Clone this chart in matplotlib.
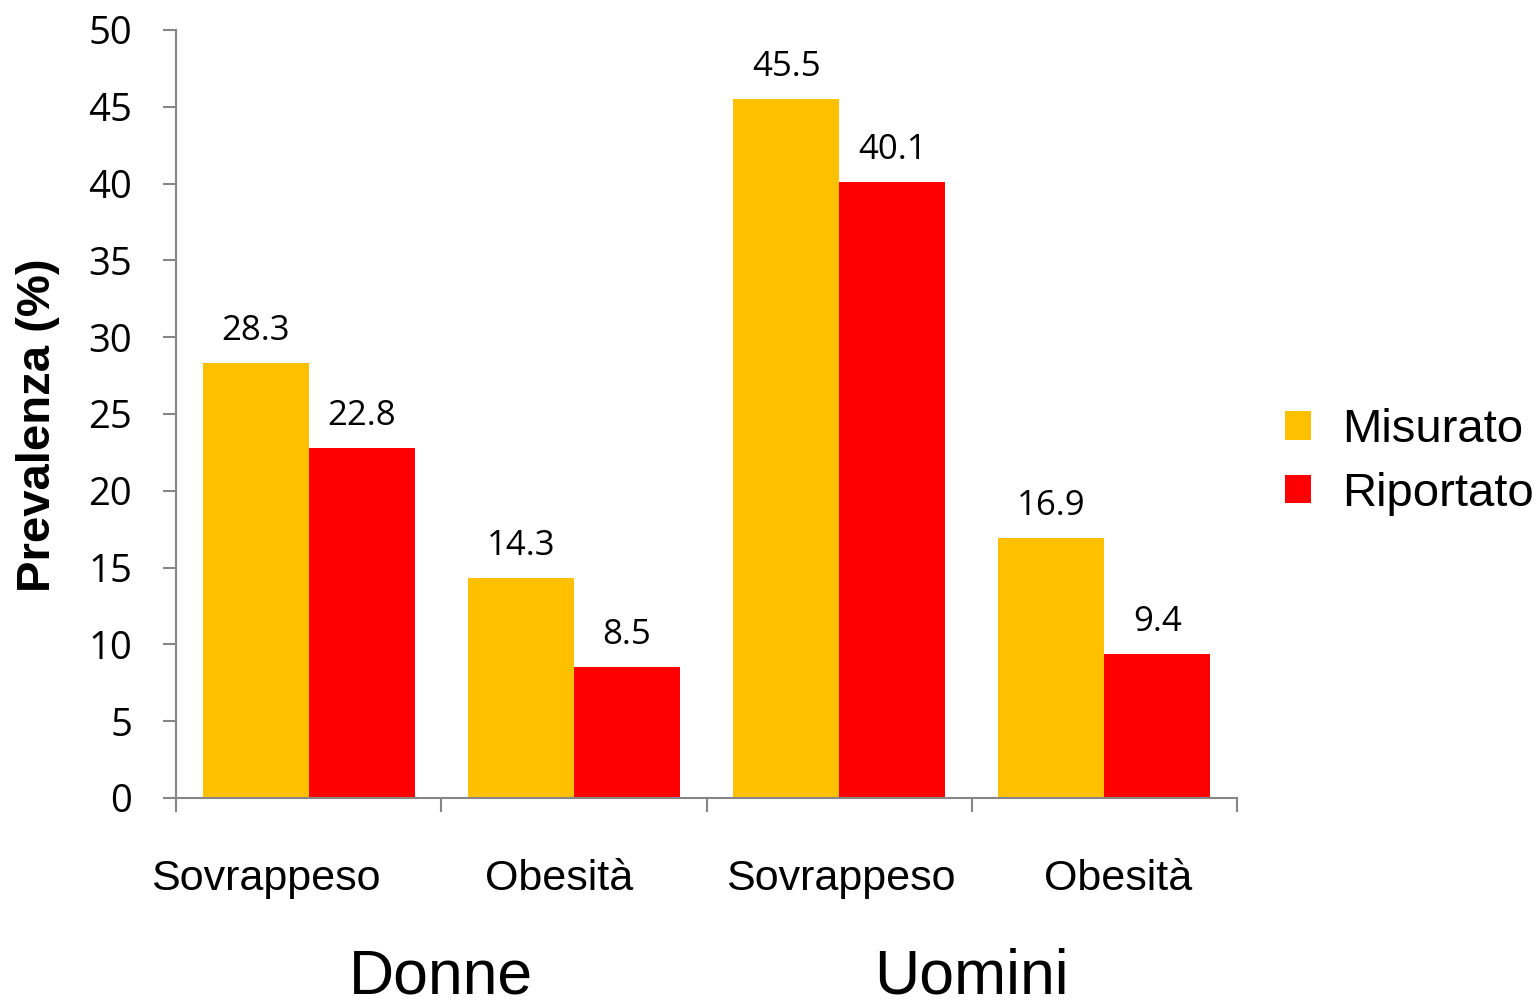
import matplotlib
matplotlib.use("Agg")
import matplotlib.pyplot as plt
import numpy as np

categories = ["Sovrappeso", "Obesità", "Sovrappeso", "Obesità"]
groups = ["Donne", "Uomini"]
misurato = [28.3, 14.3, 45.5, 16.9]
riportato = [22.8, 8.5, 40.1, 9.4]
series_names = ["Misurato", "Riportato"]
yticks = [0, 5, 10, 15, 20, 25, 30, 35, 40, 45, 50]

# small horizontal nudges of the category labels (as in the original slide)
label_nudge = [-0.16, -0.057, 0.008, 0.052]

fig = plt.figure(figsize=(15.38, 10), dpi=100)
ax = fig.add_axes([176/1538, 1-798/1000, (1237-176)/1538, (798-30)/1000])

x = np.arange(len(categories))
w = 0.4
b1 = ax.bar(x - w/2, misurato, w, color="#FFC000", label=series_names[0])
b2 = ax.bar(x + w/2, riportato, w, color="#FF0000", label=series_names[1])

for bars, vals in ((b1, misurato), (b2, riportato)):
    for r, v in zip(bars, vals):
        ax.text(r.get_x() + r.get_width()/2, v + 1.5, f"{v:.1f}", ha="center", va="baseline",
                fontsize=25, family="Open Sans", color="black")

ax.set_xlim(-0.5, 3.5)
ax.set_ylim(0, 50)
ax.set_yticks(yticks)
ax.set_yticklabels([str(t) for t in yticks], fontsize=27.5, family="Open Sans")
ax.set_xticks(np.arange(-0.5, 4, 1))
ax.set_xticklabels([])
ax.tick_params(axis="y", direction="out", length=9.5, color="#868686", width=1.5, pad=22)
ax.tick_params(axis="x", direction="out", length=10, color="#868686", width=1.5)
for s in ["top", "right"]:
    ax.spines[s].set_visible(False)
for s in ["left", "bottom"]:
    ax.spines[s].set_color("#868686")
    ax.spines[s].set_linewidth(1.5)

for xi, c, dx in zip(x, categories, label_nudge):
    ax.text(xi + dx, -6.0, c, ha="center", va="baseline", fontsize=31, family="Liberation Sans")
for gi, g in enumerate(groups):
    ax.text(0.5 + 2*gi, -12.75, g, ha="center", va="baseline", fontsize=45, family="Liberation Sans")

fig.text(38/1538, 1-425/1000, "Prevalenza (%)", rotation=90, ha="center", va="center",
         fontsize=34, fontweight="bold", family="Liberation Sans")

leg = fig.legend(handles=[b1, b2], labels=series_names, loc="center left",
                 bbox_to_anchor=(1285/1538, 1-462/1000), frameon=False,
                 borderpad=0, borderaxespad=0,
                 prop={"family": "Liberation Sans", "size": 34},
                 handlelength=0.55, handleheight=0.55, handletextpad=0.66, labelspacing=0.42)

fig.savefig("out.png", dpi=100)
